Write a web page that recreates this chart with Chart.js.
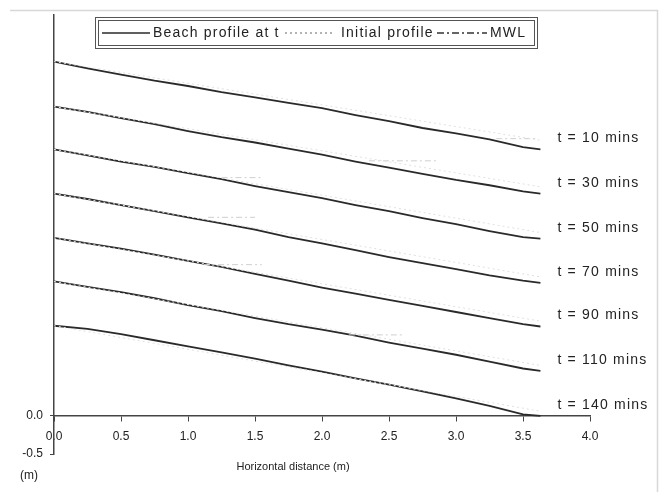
<!DOCTYPE html>
<html>
<head>
<meta charset="utf-8">
<script src="https://cdn.jsdelivr.net/npm/chart.js@4.4.1/dist/chart.umd.min.js"></script>
<style>
html, body { margin: 0; padding: 0; background: #fff; }
</style>
</head>
<body>
<canvas id="GraficoPerfil" width="672" height="498"></canvas>
<script>
// distancia horizontal (m)
var distance = [0, 0.25, 0.5, 0.75, 1.0, 1.25, 1.5, 1.75, 2.0, 2.25, 2.5, 2.75, 3.0, 3.25, 3.5, 3.63];

// perfis de praia (m), cada um deslocado na vertical
var profile10  = [4.64, 4.55, 4.47, 4.39, 4.32, 4.24, 4.17, 4.10, 4.03, 3.94, 3.86, 3.77, 3.70, 3.62, 3.52, 3.49];
var profile30  = [4.05, 3.98, 3.90, 3.82, 3.73, 3.65, 3.58, 3.50, 3.42, 3.33, 3.25, 3.17, 3.09, 3.02, 2.94, 2.91];
var profile50  = [3.49, 3.41, 3.33, 3.26, 3.18, 3.10, 3.01, 2.93, 2.85, 2.76, 2.68, 2.59, 2.51, 2.42, 2.34, 2.32];
var profile70  = [2.91, 2.84, 2.76, 2.68, 2.60, 2.52, 2.44, 2.34, 2.26, 2.17, 2.08, 2.00, 1.92, 1.84, 1.77, 1.74];
var profile90  = [2.33, 2.26, 2.19, 2.11, 2.03, 1.95, 1.86, 1.77, 1.68, 1.60, 1.52, 1.44, 1.36, 1.28, 1.20, 1.17];
var profile110 = [1.76, 1.69, 1.62, 1.54, 1.45, 1.37, 1.28, 1.20, 1.13, 1.05, 0.96, 0.88, 0.80, 0.71, 0.62, 0.59];
var profile140 = [1.18, 1.14, 1.07, 0.99, 0.91, 0.83, 0.75, 0.66, 0.58, 0.49, 0.41, 0.32, 0.23, 0.13, 0.02, 0.00];

var timeLabels = ['t = 10 mins', 't = 30 mins', 't = 50 mins', 't = 70 mins', 't = 90 mins', 't = 110 mins', 't = 140 mins'];

// perfil inicial (reta) e nivel medio (MWL)
var initialX = [0, 3.63];
var initialEnd = [3.61, 3.00, 2.40, 1.82, 1.24, 0.66, 0.06];
var mwlLevel = [3.63, 3.34, 3.12, 2.60, 1.98, 1.06];
var mwlFrom = [3.30, 2.35, 1.25, 1.15, 1.12, 2.20];
var mwlTo = [3.60, 2.85, 1.55, 1.50, 1.55, 2.60];

var perfis = [profile10, profile30, profile50, profile70, profile90, profile110, profile140];

function Pontos(xs, ys) {
    return xs.map(function (x, i) { return { x: x, y: ys[i] }; });
}

var datasets = [];
perfis.forEach(function (p, i) {
    datasets.push({
        label: 'Initial profile',
        data: Pontos(initialX, [p[0], initialEnd[i]]),
        borderColor: '#e0e0e0',
        borderWidth: 1,
        borderDash: [2, 3],
        showLine: true,
        pointRadius: 0
    });
});
mwlLevel.forEach(function (h, i) {
    datasets.push({
        label: 'MWL',
        data: Pontos([mwlFrom[i], mwlTo[i]], [h, h]),
        borderColor: '#cfcfcf',
        borderWidth: 1,
        borderDash: [6, 3, 2, 3],
        showLine: true,
        pointRadius: 0
    });
});
perfis.forEach(function (p, i) {
    datasets.push({
        label: 'Beach profile at t',
        data: Pontos(distance, p),
        borderColor: '#2a2a2a',
        borderWidth: 1.8,
        showLine: true,
        pointRadius: 0,
        tension: 0
    });
});

var FONTE = '"Liberation Sans", Arial, sans-serif';

var textos = {
    id: 'textos',
    afterDraw: function (chart) {
        var ctx = chart.ctx;
        var sx = chart.scales.x, sy = chart.scales.y;
        ctx.save();

        // rotulos de tempo
        ctx.font = '14px ' + FONTE;
        ctx.fillStyle = '#222';
        ctx.textBaseline = 'middle';
        ctx.textAlign = 'left';
        ctx.letterSpacing = '1.2px';
        perfis.forEach(function (p, i) {
            ctx.fillText(timeLabels[i], sx.getPixelForValue(3.63) + 17, sy.getPixelForValue(p[p.length - 1]) - 11);
        });

        // legenda com moldura dupla
        ctx.strokeStyle = '#555';
        ctx.lineWidth = 1;
        ctx.setLineDash([]);
        ctx.strokeRect(95.5, 17.5, 442, 31);
        ctx.strokeRect(98.5, 20.5, 436, 25);
        var ly = 33;
        var itens = [
            { x0: 102, x1: 150, tx: 153, txt: 'Beach profile at t', cor: '#2a2a2a', dash: [], w: 1.5 },
            { x0: 285, x1: 335, tx: 341, txt: 'Initial profile', cor: '#666', dash: [2, 3], w: 1 },
            { x0: 437, x1: 487, tx: 490, txt: 'MWL', cor: '#333', dash: [7, 3, 2, 3], w: 1.5 }
        ];
        ctx.letterSpacing = '1.2px';
        ctx.font = '14px ' + FONTE;
        itens.forEach(function (it) {
            ctx.beginPath();
            ctx.strokeStyle = it.cor;
            ctx.lineWidth = it.w;
            ctx.setLineDash(it.dash);
            ctx.moveTo(it.x0, ly);
            ctx.lineTo(it.x1, ly);
            ctx.stroke();
            ctx.fillStyle = '#222';
            ctx.fillText(it.txt, it.tx, ly);
        });
        ctx.setLineDash([]);

        // titulo do eixo x e unidade do eixo y
        ctx.letterSpacing = '0px';
        ctx.font = '11px ' + FONTE;
        ctx.textAlign = 'center';
        ctx.fillText('Horizontal distance (m)', 293, 467);
        ctx.font = '12px ' + FONTE;
        ctx.fillText('(m)', 29, 476);

        // moldura clara da figura
        ctx.strokeStyle = '#d8d8d8';
        ctx.beginPath();
        ctx.moveTo(10, 10.5);
        ctx.lineTo(657.5, 10.5);
        ctx.lineTo(657.5, 492);
        ctx.stroke();
        ctx.restore();
    }
};

var ctx = document.getElementById('GraficoPerfil').getContext('2d');
var grafico = new Chart(ctx, {
    type: 'scatter',
    data: { datasets: datasets },
    options: {
        responsive: false,
        animation: false,
        layout: { padding: { top: 15, right: 82, bottom: 44, left: 0 } },
        plugins: {
            legend: { display: false },
            tooltip: { enabled: false }
        },
        scales: {
            x: {
                type: 'linear',
                position: { y: 0 },
                min: 0,
                max: 4,
                border: { display: true, color: '#444', width: 1.5 },
                grid: {
                    drawOnChartArea: false,
                    drawTicks: true,
                    tickLength: 5,
                    color: '#444'
                },
                ticks: {
                    stepSize: 0.5,
                    padding: 9,
                    color: '#222',
                    font: { family: FONTE, size: 12 },
                    callback: function (v) { return v.toFixed(1); }
                }
            },
            y: {
                type: 'linear',
                min: -0.5,
                max: 5.25,
                afterFit: function (scale) { scale.width = 54; },
                border: { display: true, color: '#444', width: 1.5 },
                grid: {
                    drawOnChartArea: false,
                    drawTicks: true,
                    tickLength: 4,
                    color: function (c) {
                        return (c.tick && (c.tick.value === 0 || c.tick.value === -0.5)) ? '#444' : 'rgba(0,0,0,0)';
                    }
                },
                ticks: {
                    stepSize: 0.25,
                    padding: 7,
                    color: '#222',
                    font: { family: FONTE, size: 12 },
                    callback: function (v) {
                        return (v === 0 || v === -0.5) ? v.toFixed(1) : '';
                    }
                }
            }
        }
    },
    plugins: [textos]
});
</script>
</body>
</html>
